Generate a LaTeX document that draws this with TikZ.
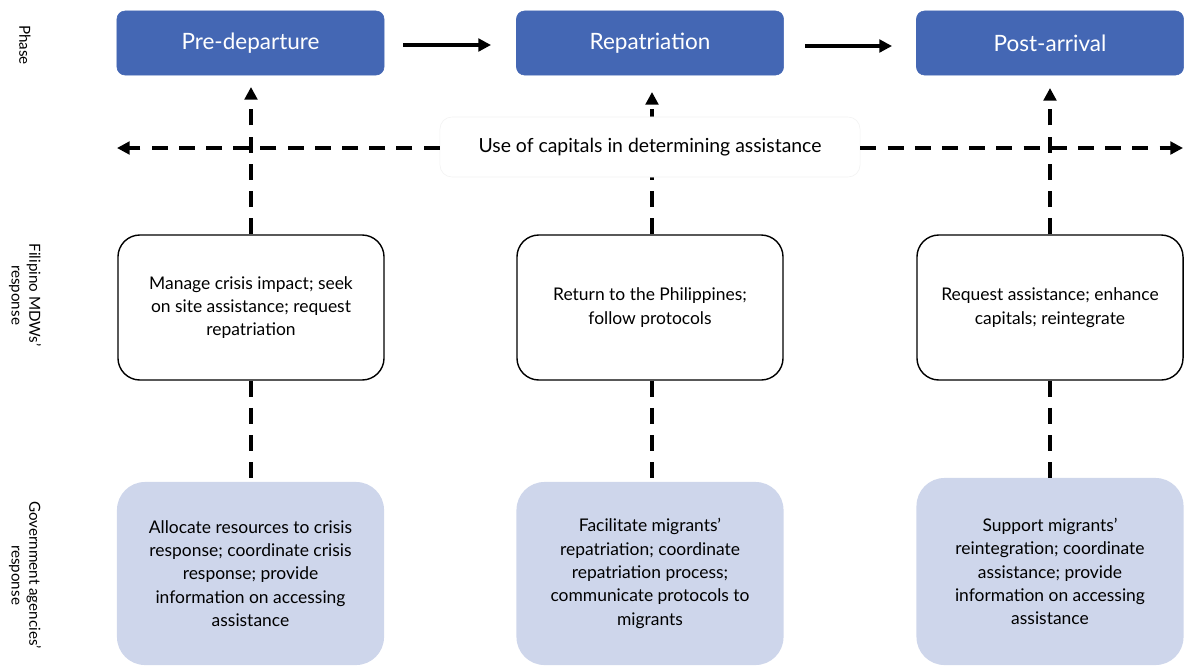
\documentclass[tikz,border=0pt]{standalone}
\usepackage{fontspec}
\setmainfont{Lato}
\usetikzlibrary{arrows.meta}
\definecolor{phaseblue}{HTML}{4467B4}
\definecolor{govfill}{HTML}{CED6EB}
\begin{document}
\begin{tikzpicture}[x=0.025cm,y=-0.025cm,
  phasebox/.style={fill=phaseblue,draw=phaseblue,rounded corners=0.2cm,minimum width=6.675cm,minimum height=1.6cm,text=white,font=\fontsize{16}{19}\selectfont,inner sep=0pt},
  mdwbox/.style={draw=black,line width=1pt,fill=white,rounded corners=0.55cm,minimum width=6.65cm,minimum height=3.625cm,align=center,font=\fontsize{12.4}{16.6}\selectfont,inner sep=0pt},
  govbox/.style={fill=govfill,draw=none,rounded corners=0.7cm,minimum width=6.675cm,align=center,font=\fontsize{12.4}{16.6}\selectfont,inner sep=0pt},
  rowlabel/.style={rotate=-90,align=center,font=\fontsize{10.8}{12.5}\selectfont},
  solidarrow/.style={line width=2.2pt,-{Triangle[length=9pt,width=9pt]}},
  dasharrow/.style={line width=2.2pt,dash pattern=on 0.4cm off 0.28cm,-{Triangle[length=9pt,width=9pt]}},
  dashline/.style={line width=2.2pt,dash pattern=on 0.4cm off 0.28cm},
  banner/.style={fill=white,draw=gray!10,rounded corners=0.3cm,minimum width=10.5cm,minimum height=1.5cm,font=\fontsize{13.8}{16}\selectfont}
]
\useasboundingbox (0,0) rectangle (1184,667);
% row labels
\node[rowlabel] (lphase) at (25,45) {Phase};
\node[rowlabel] (lmdw) at (25,295) {Filipino MDWs'\\response};
\node[rowlabel] (lgov) at (25,575) {Government agencies'\\response};
% phase boxes
\node[phasebox] (p1) at (250.5,43) {Pre-departure};
\node[phasebox] (p2) at (650,43) {Repatriation};
\node[phasebox] (p3) at (1050,43) {Post-arrival};
\draw[solidarrow] (403,45) coordinate (a1s) -- (491,45) coordinate (a1e);
\draw[solidarrow] (805,46) coordinate (a2s) -- (892,46) coordinate (a2e);
% MDW boxes
\node[mdwbox] (m1) at (251,307.5) {Manage crisis impact; seek\\on site assistance; request\\repatriation};
\node[mdwbox] (m2) at (650,307.5) {Return to the Philippines;\\follow protocols};
\node[mdwbox] (m3) at (1050,307.5) {Request assistance; enhance\\capitals; reintegrate};
% gov boxes
\node[govbox,minimum height=4.575cm] (g1) at (250.5,573.5) {Allocate resources to crisis\\response; coordinate crisis\\response; provide\\information on accessing\\assistance};
\node[govbox,minimum height=4.575cm] (g2) at (650,573.5) {Facilitate migrants'\\repatriation; coordinate\\repatriation process;\\communicate protocols to\\migrants};
\node[govbox,minimum height=4.675cm] (g3) at (1050,571.5) {Support migrants'\\reintegration; coordinate\\assistance; provide\\information on accessing\\assistance};
% up arrows
\coordinate (t1) at (251,87);
\coordinate (t2) at (652,92);
\coordinate (t3) at (1050,88);
\draw[dasharrow] (m1.north -| t1) -- (t1);
\draw[dasharrow] (m2.north -| t2) -- (t2);
\draw[dasharrow] (m3.north -| t3) -- (t3);
% down dashes
\draw[dashline] (m1.south -| t1) -- (g1.north -| t1);
\draw[dashline] (m2.south -| t2) -- (g2.north -| t2);
\draw[dashline] (m3.south -| t3) -- (g3.north -| t3);
% banner
\node[banner] (ban) at (650,147) {Use of capitals in determining assistance};
\coordinate (hl) at (117,148);
\coordinate (hr) at (1183,148);
\draw[dasharrow] (ban.west |- hl) -- (hl);
\draw[dasharrow] (ban.east |- hr) -- (hr);
\end{tikzpicture}
\end{document}
